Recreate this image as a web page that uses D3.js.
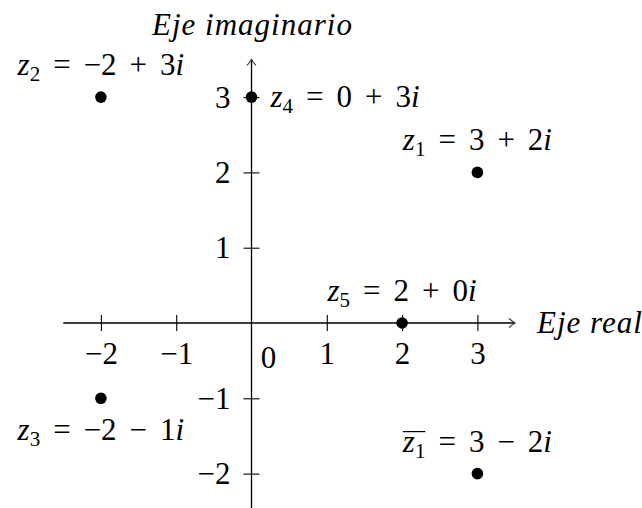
<!DOCTYPE html>
<html>
<head>
<meta charset="utf-8">
<script src="https://cdn.jsdelivr.net/npm/d3@7"></script>
</head>
<body style="margin:0; background:#fff">
<svg id="plane" width="642" height="508"></svg>
<script>
// axis extents and ticks
let xExtent = [-2.5, 3.5];
let yExtent = [-2.5, 3.5];
let xTicks = [-2, -1, 1, 2, 3];
let yTicks = [-2, -1, 1, 2, 3];

// points of the complex plane
let pointSub = ["1", "2", "3", "4", "5", "1"];
let pointRe = [3, -2, -2, 0, 2, 3];
let pointIm = [2, 3, -1, 3, 0, -2];
let pointConj = [false, false, false, false, false, true];
let pointPlace = ["above", "above", "below", "right", "above", "above"];

let unit = 75.3;
let ox = 251.5, oy = 323;
let fontSize = 31;
let opGap = 13;
let serif = "'Liberation Serif'";

let svg = d3.select("#plane");

let x = d3.scaleLinear()
    .domain(xExtent)
    .range([ox + xExtent[0] * unit, ox + xExtent[1] * unit]);

let y = d3.scaleLinear()
    .domain(yExtent)
    .range([oy - yExtent[0] * unit, oy - yExtent[1] * unit]);

let minus = d => (d < 0 ? "\u2212" + Math.abs(d) : String(d));

// every label goes through here so the serif face sticks
function typeset(sel) {
    return sel.style("font-family", serif).style("font-size", fontSize + "px");
}

// little tikz style arrow head
svg.append("defs").append("marker")
    .attr("id", "tip")
    .attr("markerUnits", "userSpaceOnUse")
    .attr("viewBox", "-8 -6 10 12")
    .attr("markerWidth", 10)
    .attr("markerHeight", 12)
    .attr("refX", 0)
    .attr("refY", 0)
    .attr("orient", "auto")
  .append("path")
    .attr("d", "M-6,-4.5 Q-2,-1 0,0 Q-2,1 -6,4.5")
    .attr("fill", "none")
    .attr("stroke", "#333")
    .attr("stroke-width", 1.1);

// x axis line
svg.append("line")
    .attr("x1", x(xExtent[0]))
    .attr("x2", x(xExtent[1]))
    .attr("y1", y(0))
    .attr("y2", y(0))
    .attr("stroke", "#000")
    .attr("stroke-width", 1.3)
    .attr("marker-end", "url(#tip)");

// y axis line
svg.append("line")
    .attr("x1", x(0))
    .attr("x2", x(0))
    .attr("y1", y(yExtent[0]))
    .attr("y2", y(yExtent[1]))
    .attr("stroke", "#000")
    .attr("stroke-width", 1.3)
    .attr("marker-end", "url(#tip)");

let xAxis = svg.append("g")
    .attr("transform", "translate(0," + y(0) + ")")
    .call(d3.axisBottom(x).tickValues(xTicks).tickSize(8).tickFormat(minus));
xAxis.select(".domain").remove();
xAxis.selectAll(".tick line")
    .attr("y1", -8)
    .attr("y2", 8)
    .attr("stroke", "#000")
    .attr("stroke-width", 1.1);
xAxis.selectAll(".tick text")
    .attr("y", 41)
    .attr("dy", 0)
    .attr("fill", "#000")
    .call(typeset);

let yAxis = svg.append("g")
    .attr("transform", "translate(" + x(0) + ",0)")
    .call(d3.axisLeft(y).tickValues(yTicks).tickSize(8).tickFormat(minus));
yAxis.select(".domain").remove();
yAxis.selectAll(".tick line")
    .attr("x1", -8)
    .attr("x2", 8)
    .attr("stroke", "#000")
    .attr("stroke-width", 1.1);
yAxis.selectAll(".tick text")
    .attr("x", -21)
    .attr("dy", 10)
    .attr("fill", "#000")
    .call(typeset);

// origin label sits below right
svg.append("text")
    .attr("x", x(0) + 17)
    .attr("y", y(0) + 45)
    .attr("text-anchor", "middle")
    .call(typeset)
    .text("0");

// axis titles
svg.append("text")
    .attr("x", x(0) + 1)
    .attr("y", 35)
    .attr("text-anchor", "middle")
    .call(typeset)
    .style("font-style", "italic")
    .style("letter-spacing", "1px")
    .text("Eje imaginario");

svg.append("text")
    .attr("x", x(xExtent[1]) + 22)
    .attr("y", y(0) + 10)
    .call(typeset)
    .style("font-style", "italic")
    .style("letter-spacing", "1px")
    .text("Eje real");

// points
let points = pointSub.map((s, i) => ({
    sub: s, re: pointRe[i], im: pointIm[i], conj: pointConj[i], place: pointPlace[i]
}));

svg.selectAll(".pt")
    .data(points)
  .enter().append("circle")
    .attr("class", "pt")
    .attr("cx", d => x(d.re))
    .attr("cy", d => y(d.im))
    .attr("r", 5.8)
    .attr("fill", "#000");

points.forEach(d => {
    let px = x(d.re), py = y(d.im);
    let lbl = svg.append("text").call(typeset);
    if (d.place === "above") {
        lbl.attr("x", px).attr("y", py - 22).attr("text-anchor", "middle");
    } else if (d.place === "below") {
        lbl.attr("x", px).attr("y", py + 42).attr("text-anchor", "middle");
    } else {
        lbl.attr("x", px + 19).attr("y", py + 10).attr("text-anchor", "start");
    }
    let zt = lbl.append("tspan").style("font-style", "italic").text("z");
    let st = lbl.append("tspan").style("font-size", "21px").attr("dy", 6).text(d.sub);
    lbl.append("tspan").attr("dy", -6).attr("dx", opGap).text("=");
    lbl.append("tspan").attr("dx", opGap).text(minus(d.re));
    lbl.append("tspan").attr("dx", opGap).text(d.im < 0 ? "\u2212" : "+");
    lbl.append("tspan").attr("dx", opGap).text(Math.abs(d.im));
    lbl.append("tspan").style("font-style", "italic").text("i");

    if (d.conj) {
        let b1 = zt.node().getBBox(), b2 = st.node().getBBox();
        svg.append("line")
            .attr("x1", b1.x + 1)
            .attr("x2", b2.x + b2.width)
            .attr("y1", py - 22 - 20)
            .attr("y2", py - 22 - 20)
            .attr("stroke", "#000")
            .attr("stroke-width", 1.2);
    }
});
</script>
</body>
</html>
